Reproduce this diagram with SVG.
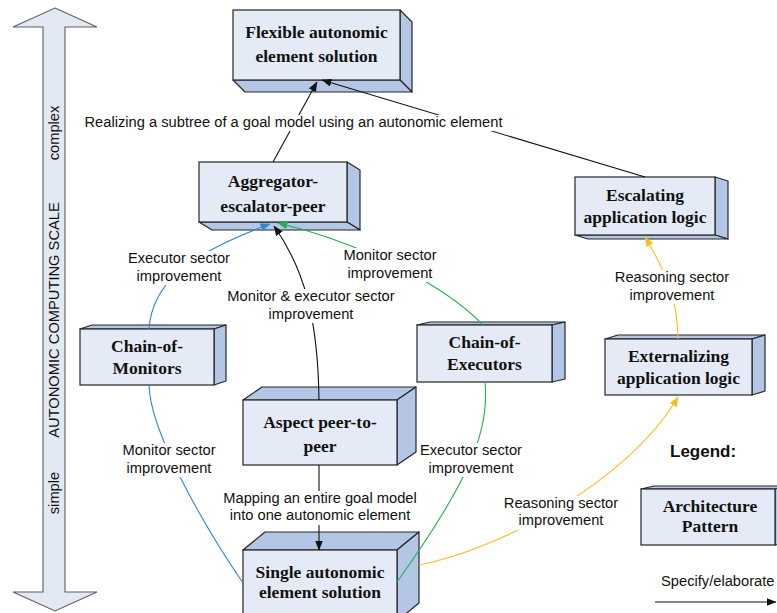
<svg xmlns="http://www.w3.org/2000/svg" width="777" height="613" viewBox="0 0 777 613">
  <style>
    .front { fill: #e5ebf6; stroke: #262626; stroke-width: 1.2; }
    .side { fill: #b4c6e6; stroke: #262626; stroke-width: 1.2; stroke-linejoin: round; }
    .bt { font-family: "Liberation Serif", "Times New Roman", serif; font-weight: bold; font-size: 17.5px; fill: #111; text-anchor: middle; }
    .lb { font-family: "Liberation Sans", Arial, sans-serif; font-size: 14.7px; fill: #111; text-anchor: middle; }
    .bg { fill: #ffffff; }
    .c { fill: none; stroke-width: 1.1; }
    .k { stroke: #111; }
    .b { stroke: #2f86d2; }
    .g { stroke: #20b24e; }
    .y { stroke: #fbbc1c; }
  </style>
  <defs>
    <marker id="ak" markerUnits="userSpaceOnUse" markerWidth="10" markerHeight="8" refX="9.5" refY="4" orient="auto">
      <path d="M0,0 L10,4 L0,8 z" fill="#111"/>
    </marker>
    <marker id="ab" markerUnits="userSpaceOnUse" markerWidth="10" markerHeight="8" refX="9.5" refY="4" orient="auto">
      <path d="M0,0 L10,4 L0,8 z" fill="#2f86d2"/>
    </marker>
    <marker id="ag" markerUnits="userSpaceOnUse" markerWidth="10" markerHeight="8" refX="9.5" refY="4" orient="auto">
      <path d="M0,0 L10,4 L0,8 z" fill="#20b24e"/>
    </marker>
    <marker id="ay" markerUnits="userSpaceOnUse" markerWidth="10" markerHeight="8" refX="9.5" refY="4" orient="auto">
      <path d="M0,0 L10,4 L0,8 z" fill="#fbbc1c"/>
    </marker>
  </defs>

  <!-- scale arrow on the left -->
  <g id="scale">
    <polygon points="55,8 97,27 65,27 65,592 97,592 55,611 13,592 43,592 43,27 13,27" fill="#e2e9f3" stroke="#5f5f5f" stroke-width="1.1"/>
    <text class="lb" transform="translate(59,133) rotate(-90)">complex</text>
    <text class="lb" transform="translate(59,320) rotate(-90)">AUTONOMIC COMPUTING SCALE</text>
    <text class="lb" transform="translate(59,493) rotate(-90)">simple</text>
  </g>

  <!-- pattern boxes -->
  <g id="flexible">
    <polygon class="side" points="400,10 412,22 412,92 400,80"/>
    <polygon class="side" points="233,80 245,92 412,92 400,80"/>
    <rect class="front" x="233" y="10" width="167" height="70"/>
    <text class="bt" x="316.5" y="38">Flexible autonomic</text>
    <text class="bt" x="316.5" y="62">element solution</text>
  </g>

  <g id="aggregator">
    <polygon class="side" points="347,162 360,170 360,230 347,222"/>
    <polygon class="side" points="199,222 212,230 360,230 347,222"/>
    <rect class="front" x="199" y="162" width="148" height="60"/>
    <text class="bt" x="273" y="187">Aggregator-</text>
    <text class="bt" x="273" y="212">escalator-peer</text>
  </g>

  <g id="escalating">
    <polygon class="side" points="715,177 728,181 728,239 715,235"/>
    <polygon class="side" points="575,235 588,239 728,239 715,235"/>
    <rect class="front" x="575" y="177" width="140" height="58"/>
    <text class="bt" x="645" y="201">Escalating</text>
    <text class="bt" x="645" y="223">application logic</text>
  </g>

  <g id="monitors">
    <polygon class="side" points="80,329 92,325 226,325 214,329"/>
    <polygon class="side" points="214,329 226,325 226,381 214,385"/>
    <rect class="front" x="80" y="329" width="134" height="56"/>
    <text class="bt" x="147" y="352">Chain-of-</text>
    <text class="bt" x="147" y="374">Monitors</text>
  </g>

  <g id="executors">
    <polygon class="side" points="417,325 430,322 565,322 552,325"/>
    <polygon class="side" points="552,325 565,322 565,379 552,382"/>
    <rect class="front" x="417" y="325" width="135" height="57"/>
    <text class="bt" x="484.5" y="348">Chain-of-</text>
    <text class="bt" x="484.5" y="370">Executors</text>
  </g>

  <g id="aspect">
    <polygon class="side" points="243,400 262,387 416,387 397,400"/>
    <polygon class="side" points="397,400 416,387 416,452 397,465"/>
    <rect class="front" x="243" y="400" width="154" height="65"/>
    <text class="bt" x="320" y="428">Aspect peer-to-</text>
    <text class="bt" x="320" y="452">peer</text>
  </g>

  <g id="externalizing">
    <polygon class="side" points="605,339 618,335 765,335 752,339"/>
    <polygon class="side" points="752,339 765,335 765,391 752,395"/>
    <rect class="front" x="605" y="339" width="147" height="56"/>
    <text class="bt" x="678.5" y="362">Externalizing</text>
    <text class="bt" x="678.5" y="384">application logic</text>
  </g>

  <g id="single">
    <polygon class="side" points="243,550 265,532 419,532 397,550"/>
    <polygon class="side" points="397,550 419,532 419,603 397,621"/>
    <rect class="front" x="243" y="550" width="154" height="71"/>
    <text class="bt" x="320" y="578">Single autonomic</text>
    <text class="bt" x="320" y="598">element solution</text>
  </g>

  <!-- legend -->
  <g id="legend">
    <text x="670" y="457" font-family="Liberation Sans, Arial, sans-serif" font-weight="bold" font-size="17px" fill="#111">Legend:</text>
    <polygon class="side" points="641,489 654,486 788,486 775,489"/>
    <polygon class="side" points="775,489 788,486 788,542 775,545"/>
    <rect class="front" x="641" y="489" width="134" height="56"/>
    <text class="bt" x="710" y="512">Architecture</text>
    <text class="bt" x="710" y="532">Pattern</text>
    <text class="lb" x="661" y="586" style="text-anchor:start">Specify/elaborate</text>
    <line class="c k" x1="655" y1="602" x2="776" y2="602" marker-end="url(#ak)"/>
  </g>

  <!-- connectors -->
  <g id="connectors">
    <path class="c k" d="M273,162 L317,82" marker-end="url(#ak)"/>
    <path class="c k" d="M645,177 L322,80" marker-end="url(#ak)"/>
    <path class="c b" d="M149,329 C152,285 185,255 270,224" marker-end="url(#ab)"/>
    <path class="c g" d="M483,325 C440,280 350,240 278,223" marker-end="url(#ag)"/>
    <path class="c k" d="M319,400 C318,320 305,270 274,226" marker-end="url(#ak)"/>
    <path class="c b" d="M149,385 C150,430 200,520 243,583"/>
    <path class="c g" d="M485,382 C490,430 470,480 397,582"/>
    <path class="c k" d="M319,465 L319,550" marker-end="url(#ak)"/>
    <path class="c y" d="M419,565 C500,550 630,480 678,397" marker-end="url(#ay)"/>
    <path class="c y" d="M678,339 C678,300 665,270 645,237" marker-end="url(#ay)"/>
  </g>

  <!-- connector labels -->
  <g id="labels">
    <rect class="bg" x="80" y="115" width="428" height="16"/>
    <text class="lb" x="293.5" y="127">Realizing a subtree of a goal model using an autonomic element</text>

    <rect class="bg" x="126" y="251" width="106" height="34"/>
    <text class="lb" x="179" y="263">Executor sector</text>
    <text class="lb" x="179" y="281">improvement</text>

    <rect class="bg" x="341" y="248" width="98" height="34"/>
    <text class="lb" x="390" y="260">Monitor sector</text>
    <text class="lb" x="390" y="278">improvement</text>

    <rect class="bg" x="224" y="289" width="174" height="34"/>
    <text class="lb" x="311" y="301">Monitor &amp; executor sector</text>
    <text class="lb" x="311" y="319">improvement</text>

    <rect class="bg" x="611" y="270" width="123" height="34"/>
    <text class="lb" x="672" y="282">Reasoning sector</text>
    <text class="lb" x="672" y="300">improvement</text>

    <rect class="bg" x="120" y="443" width="98" height="34"/>
    <text class="lb" x="169" y="455">Monitor sector</text>
    <text class="lb" x="169" y="473">improvement</text>

    <rect class="bg" x="418" y="443" width="106" height="34"/>
    <text class="lb" x="471" y="455">Executor sector</text>
    <text class="lb" x="471" y="473">improvement</text>

    <rect class="bg" x="219" y="491" width="202" height="34"/>
    <text class="lb" x="320" y="503">Mapping an entire goal model</text>
    <text class="lb" x="320" y="520">into one autonomic element</text>

    <rect class="bg" x="500" y="496" width="123" height="34"/>
    <text class="lb" x="561" y="508">Reasoning sector</text>
    <text class="lb" x="561" y="525">improvement</text>
  </g>
</svg>
